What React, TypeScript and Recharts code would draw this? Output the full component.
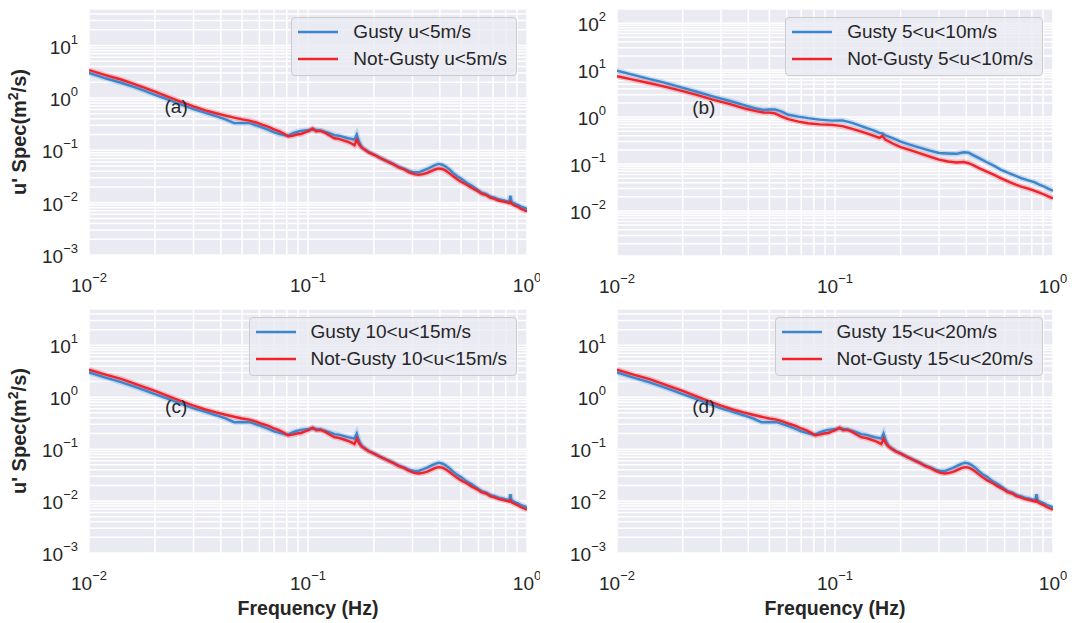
import React from 'react';
import { LineChart, Line, XAxis, YAxis, CartesianGrid, ReferenceDot } from 'recharts';

// spectra for u<5, 10<u<15 and 15<u<20 look the same in the figure
const freqA = [0.010, 0.012, 0.014, 0.016, 0.018, 0.020, 0.023, 0.026, 0.030, 0.034, 0.038, 0.042, 0.046, 0.050, 0.054, 0.058, 0.062, 0.066, 0.070, 0.074, 0.078, 0.081, 0.085, 0.089, 0.093, 0.097, 0.101, 0.105, 0.109, 0.114, 0.120, 0.126, 0.132, 0.138, 0.145, 0.152, 0.158, 0.163, 0.167, 0.171, 0.176, 0.183, 0.19, 0.2, 0.215, 0.23, 0.245, 0.26, 0.275, 0.29, 0.305, 0.32, 0.335, 0.35, 0.365, 0.38, 0.395, 0.41, 0.425, 0.44, 0.46, 0.48, 0.5, 0.53, 0.56, 0.59, 0.62, 0.65, 0.68, 0.71, 0.74, 0.77, 0.8, 0.83, 0.84, 0.85, 0.88, 0.91, 0.94, 0.97, 1.0];
const gustyA = [3.0, 2.35, 1.95, 1.62, 1.36, 1.15, 0.93, 0.76, 0.61, 0.52, 0.45, 0.39, 0.33, 0.33, 0.33, 0.30, 0.27, 0.245, 0.22, 0.205, 0.195, 0.19, 0.21, 0.225, 0.235, 0.24, 0.245, 0.25, 0.245, 0.24, 0.225, 0.21, 0.195, 0.19, 0.18, 0.17, 0.165, 0.16, 0.2, 0.145, 0.115, 0.102, 0.092, 0.083, 0.071, 0.062, 0.055, 0.048, 0.044, 0.04, 0.038, 0.038, 0.041, 0.044, 0.048, 0.052, 0.055, 0.053, 0.049, 0.044, 0.037, 0.032, 0.029, 0.024, 0.021, 0.018, 0.0155, 0.0145, 0.013, 0.0124, 0.0116, 0.0112, 0.0108, 0.0105, 0.0135, 0.0103, 0.0096, 0.009, 0.0084, 0.008, 0.0076];
const calmA = [3.4, 2.7, 2.25, 1.85, 1.55, 1.32, 1.05, 0.86, 0.69, 0.58, 0.51, 0.46, 0.42, 0.39, 0.37, 0.34, 0.305, 0.28, 0.25, 0.23, 0.205, 0.185, 0.19, 0.2, 0.205, 0.22, 0.235, 0.26, 0.23, 0.235, 0.215, 0.19, 0.17, 0.165, 0.155, 0.145, 0.135, 0.125, 0.16, 0.13, 0.112, 0.1, 0.09, 0.082, 0.07, 0.061, 0.054, 0.047, 0.043, 0.038, 0.035, 0.034, 0.035, 0.037, 0.04, 0.043, 0.045, 0.044, 0.041, 0.037, 0.032, 0.028, 0.025, 0.022, 0.019, 0.017, 0.0148, 0.014, 0.0125, 0.0118, 0.011, 0.0106, 0.0102, 0.0098, 0.0104, 0.0095, 0.0088, 0.0083, 0.0076, 0.0072, 0.0068];

const freqB = [0.010, 0.012, 0.014, 0.016, 0.019, 0.023, 0.0275, 0.033, 0.039, 0.044, 0.047, 0.050, 0.053, 0.057, 0.061, 0.068, 0.075, 0.085, 0.097, 0.108, 0.12, 0.13, 0.14, 0.15, 0.16, 0.165, 0.17, 0.185, 0.2, 0.22, 0.24, 0.27, 0.3, 0.33, 0.36, 0.39, 0.41, 0.43, 0.46, 0.5, 0.54, 0.575, 0.64, 0.715, 0.77, 0.82, 0.86, 0.9, 0.95, 1.0];
const gustyB = [9.7, 7.8, 6.5, 5.6, 4.5, 3.5, 2.75, 2.2, 1.75, 1.5, 1.42, 1.45, 1.45, 1.3, 1.12, 1.02, 0.95, 0.88, 0.84, 0.85, 0.75, 0.66, 0.58, 0.52, 0.46, 0.45, 0.41, 0.35, 0.3, 0.26, 0.23, 0.195, 0.172, 0.168, 0.165, 0.178, 0.175, 0.155, 0.132, 0.108, 0.09, 0.076, 0.062, 0.05, 0.045, 0.041, 0.037, 0.034, 0.03, 0.027];
const calmB = [7.4, 6.2, 5.3, 4.6, 3.8, 3.0, 2.35, 1.88, 1.5, 1.32, 1.25, 1.24, 1.2, 1.02, 0.9, 0.8, 0.74, 0.7, 0.68, 0.64, 0.56, 0.5, 0.45, 0.4, 0.36, 0.4, 0.33, 0.27, 0.23, 0.2, 0.174, 0.145, 0.124, 0.113, 0.108, 0.11, 0.104, 0.095, 0.081, 0.068, 0.058, 0.05, 0.04, 0.033, 0.03, 0.027, 0.025, 0.023, 0.0205, 0.0186];

const legendA = ['Gusty u<5m/s', 'Not-Gusty u<5m/s'];
const legendB = ['Gusty 5<u<10m/s', 'Not-Gusty 5<u<10m/s'];
const legendC = ['Gusty 10<u<15m/s', 'Not-Gusty 10<u<15m/s'];
const legendD = ['Gusty 15<u<20m/s', 'Not-Gusty 15<u<20m/s'];

const xDomain = [0.01, 1];
const yDomainLow = [0.001, 50];
const yDomainB = [0.0011, 200];

// where the (a)...(d) tags sit, in data units
const tagLow = [0.025, 0.68];
const tagB = [0.025, 1.64];

const BLUE = '#3b85cc';
const RED = '#f0222b';
const FONT = '"Liberation Sans", Arial, Helvetica, sans-serif';
const INK = '#262626';

const logTicks = ([lo, hi]: number[]) => {
  const out: number[] = [];
  for (let e = Math.floor(Math.log10(lo)); e <= Math.ceil(Math.log10(hi)); e++) {
    for (let m = 1; m <= 9; m++) {
      const v = Number((m * Math.pow(10, e)).toPrecision(6));
      if (v >= lo * 0.9999 && v <= hi * 1.0001) out.push(v);
    }
  }
  return out;
};

const majorExp = (v: number) => {
  const e = Math.log10(v);
  const r = Math.round(e);
  return Math.abs(e - r) < 1e-6 ? r : null;
};

const expText = (r: number) => (r < 0 ? '\u2212' + -r : String(r));

const XTick = (props: any) => {
  const { x, y, payload } = props;
  const r = majorExp(payload.value);
  if (r === null) return null;
  return (
    <text x={x} y={y + 37} textAnchor="middle" fill={INK} fontSize={19} fontFamily={FONT}>
      <tspan>10</tspan>
      <tspan dy={-10} fontSize={13}>{expText(r)}</tspan>
    </text>
  );
};

const YTick = (props: any) => {
  const { x, y, payload } = props;
  const r = majorExp(payload.value);
  if (r === null) return null;
  return (
    <text x={x - 11} y={y + 8} textAnchor="end" fill={INK} fontSize={19} fontFamily={FONT}>
      <tspan>10</tspan>
      <tspan dy={-10} fontSize={13}>{expText(r)}</tspan>
    </text>
  );
};

const YTitle = (props: any) => {
  const vb = props.viewBox || { x: 0, y: 0, width: 0, height: 0 };
  const cx = vb.x + 26;
  const cy = vb.y + vb.height / 2;
  return (
    <text x={cx} y={cy} transform={`rotate(-90 ${cx} ${cy})`} textAnchor="middle" fill={INK}
      fontSize={20} fontWeight="bold" fontFamily={FONT}>
      <tspan>u' Spec(m</tspan>
      <tspan dy={-8} fontSize={14}>2</tspan>
      <tspan dy={8}>/s)</tspan>
    </text>
  );
};

const XTitle = (props: any) => {
  const vb = props.viewBox || { x: 0, y: 0, width: 0, height: 0 };
  return (
    <text x={vb.x + vb.width / 2} y={vb.y + 62} textAnchor="middle" fill={INK}
      fontSize={19.5} fontWeight="bold" fontFamily={FONT}>
      Frequency (Hz)
    </text>
  );
};

const panels = [
  { id: '(a)', left: 0, top: 0, width: 540, height: 300, yw: 89, right: 13, xh: 45, yDomain: yDomainLow, freq: freqA, gusty: gustyA, calm: calmA, tag: tagLow, legend: legendA, yTitle: true, xTitle: false },
  { id: '(b)', left: 540, top: 0, width: 539, height: 300, yw: 77, right: 26, xh: 44, yDomain: yDomainB, freq: freqB, gusty: gustyB, calm: calmB, tag: tagB, legend: legendB, yTitle: false, xTitle: false },
  { id: '(c)', left: 0, top: 300, width: 540, height: 323, yw: 89, right: 13, xh: 70, yDomain: yDomainLow, freq: freqA, gusty: gustyA, calm: calmA, tag: tagLow, legend: legendC, yTitle: true, xTitle: true },
  { id: '(d)', left: 540, top: 300, width: 539, height: 323, yw: 77, right: 26, xh: 70, yDomain: yDomainLow, freq: freqA, gusty: gustyA, calm: calmA, tag: tagLow, legend: legendD, yTitle: false, xTitle: true },
];

const Panel = ({ p }: { p: typeof panels[number] }) => {
  const data = p.freq.map((f, i) => ({ f, gusty: p.gusty[i], calm: p.calm[i] }));
  return (
    <div style={{ position: 'absolute', left: p.left, top: p.top, width: p.width, height: p.height }}>
      <LineChart width={p.width} height={p.height} data={data} margin={{ top: 9, right: p.right, left: 0, bottom: 0 }}>
        <CartesianGrid stroke="#ffffff" strokeWidth={1.5} fill="#EAEAF2" fillOpacity={1} />
        <XAxis dataKey="f" type="number" scale="log" domain={xDomain} ticks={logTicks(xDomain)} interval={0}
          allowDataOverflow axisLine={false} tickLine={false} tickSize={0} tickMargin={0} height={p.xh}
          tick={<XTick />} label={p.xTitle ? <XTitle /> : undefined} />
        <YAxis type="number" scale="log" domain={p.yDomain} ticks={logTicks(p.yDomain)} interval={0}
          allowDataOverflow axisLine={false} tickLine={false} tickSize={0} tickMargin={0} width={p.yw}
          tick={<YTick />} label={p.yTitle ? <YTitle /> : undefined} />
        <Line dataKey="gusty" stroke={BLUE} strokeWidth={5.5} strokeOpacity={0.22} dot={false} isAnimationActive={false} />
        <Line dataKey="calm" stroke={RED} strokeWidth={5.5} strokeOpacity={0.22} dot={false} isAnimationActive={false} />
        <Line dataKey="gusty" stroke={BLUE} strokeWidth={2.4} dot={false} isAnimationActive={false} />
        <Line dataKey="calm" stroke={RED} strokeWidth={2.4} dot={false} isAnimationActive={false} />
        <ReferenceDot x={p.tag[0]} y={p.tag[1]} r={0} fill="none" stroke="none"
          label={{ value: p.id, position: 'center', fill: INK, fontSize: 19, fontFamily: FONT }} />
      </LineChart>
      <div style={{
        position: 'absolute', top: 17, right: p.right + 10, background: 'rgba(234,234,242,0.8)',
        border: '1px solid #cccccc', borderRadius: 4, padding: '1px 9px 3px 6px',
        fontFamily: FONT, fontSize: 19, color: INK, lineHeight: '26.5px', whiteSpace: 'nowrap',
      }}>
        {p.legend.map((name, i) => (
          <div key={name} style={{ display: 'flex', alignItems: 'center' }}>
            <svg width={40} height={4} style={{ marginRight: 15 }}>
              <line x1={0} y1={2} x2={40} y2={2} stroke={i === 0 ? BLUE : RED} strokeWidth={2.4} />
            </svg>
            <span>{name}</span>
          </div>
        ))}
      </div>
    </div>
  );
};

export default function App() {
  return (
    <div style={{ position: 'absolute', left: 0, top: 0, width: 1079, height: 623, background: '#ffffff', fontFamily: FONT }}>
      {panels.map((p) => <Panel key={p.id} p={p} />)}
    </div>
  );
}
